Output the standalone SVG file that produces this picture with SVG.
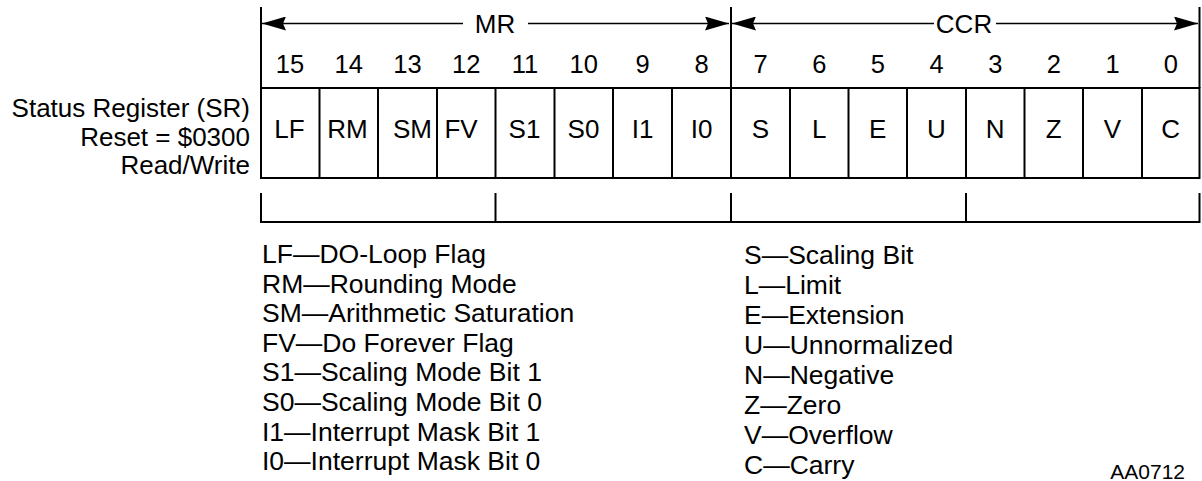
<svg xmlns="http://www.w3.org/2000/svg" width="1202" height="481" viewBox="0 0 1202 481">
<style>
text{font-family:"Liberation Sans",Arial,Helvetica,sans-serif;fill:#000}
.t{font-size:26px}
.lg{font-size:26.5px}
.c{text-anchor:middle}
.e{text-anchor:end}
.ln{stroke:#000;stroke-width:2;fill:none}
.ar{stroke:#000;stroke-width:1.6;fill:none}
</style>
<defs>
<marker id="ah" viewBox="0 0 24 14" refX="24" refY="7" markerWidth="24" markerHeight="14" markerUnits="userSpaceOnUse" orient="auto-start-reverse">
<path d="M0,0 L24,7 L0,14 L3,7 Z" fill="#000"/>
</marker>
</defs>
<rect width="1202" height="481" fill="#fff"/>
<g id="title">
<text class="t e" x="250" y="117">Status Register (SR)</text>
<text class="t e" x="250" y="145.5">Reset = $0300</text>
<text class="t e" x="250" y="173.5">Read/Write</text>
</g>
<g id="frame">
<line class="ln" x1="261" y1="7" x2="261" y2="88"/>
<line class="ln" x1="731" y1="7" x2="731" y2="88"/>
<line class="ln" x1="1199.5" y1="7" x2="1199.5" y2="88"/>
</g>
<g id="connectors">
<line class="ar" x1="463" y1="23.5" x2="262" y2="23.5" marker-end="url(#ah)"/>
<line class="ar" x1="528" y1="23.5" x2="729" y2="23.5" marker-end="url(#ah)"/>
<line class="ar" x1="934" y1="23.5" x2="732" y2="23.5" marker-end="url(#ah)"/>
<line class="ar" x1="996" y1="23.5" x2="1198" y2="23.5" marker-end="url(#ah)"/>
</g>
<g id="mr-label"><text class="t c" x="495" y="33">MR</text></g>
<g id="ccr-label"><text class="t c" x="964" y="33">CCR</text></g>
<g id="bit-numbers" font-size="25.5">
<text class="c" x="290" y="73">15</text>
<text class="c" x="348.75" y="73">14</text>
<text class="c" x="407.5" y="73">13</text>
<text class="c" x="466.25" y="73">12</text>
<text class="c" x="525" y="73">11</text>
<text class="c" x="583.75" y="73">10</text>
<text class="c" x="642.5" y="73">9</text>
<text class="c" x="701.5" y="73">8</text>
<text class="c" x="760.5" y="73">7</text>
<text class="c" x="819.25" y="73">6</text>
<text class="c" x="877.75" y="73">5</text>
<text class="c" x="936.5" y="73">4</text>
<text class="c" x="995.25" y="73">3</text>
<text class="c" x="1053.75" y="73">2</text>
<text class="c" x="1112.5" y="73">1</text>
<text class="c" x="1170.75" y="73">0</text>
</g>
<g id="register">
<rect class="ln" x="261" y="88" width="938.5" height="90"/>
<path class="ln" d="M319.5,88V178M378,88V178M437,88V178M495.5,88V178M554.5,88V178M613,88V178M672,88V178M731,88V178M790,88V178M848.5,88V178M907,88V178M966,88V178M1024.5,88V178M1083,88V178M1142,88V178"/>
</g>
<g id="bits">
<text class="t c" x="289.5" y="138">LF</text>
<text class="t c" x="347.5" y="138">RM</text>
<text class="t c" x="412.5" y="138">SM</text>
<text class="t c" x="461" y="138">FV</text>
<text class="t c" x="524.5" y="138">S1</text>
<text class="t c" x="583.5" y="138">S0</text>
<text class="t c" x="642.5" y="138">I1</text>
<text class="t c" x="701.5" y="138">I0</text>
<text class="t c" x="760.5" y="138">S</text>
<text class="t c" x="819.25" y="138">L</text>
<text class="t c" x="877.75" y="138">E</text>
<text class="t c" x="936.5" y="138">U</text>
<text class="t c" x="995.25" y="138">N</text>
<text class="t c" x="1053.75" y="138">Z</text>
<text class="t c" x="1112.5" y="138">V</text>
<text class="t c" x="1170.75" y="138">C</text>
</g>
<g id="brackets">
<path class="ln" d="M261,193V222H1199.5V193M495.5,193V222M731,193V222M966,193V222"/>
</g>
<g id="mr-legend">
<text class="lg" x="262" y="263">LF—DO-Loop Flag</text>
<text class="lg" x="262" y="292.6">RM—Rounding Mode</text>
<text class="lg" x="262" y="322.2">SM—Arithmetic Saturation</text>
<text class="lg" x="262" y="351.8">FV—Do Forever Flag</text>
<text class="lg" x="262" y="381.4">S1—Scaling Mode Bit 1</text>
<text class="lg" x="262" y="411">S0—Scaling Mode Bit 0</text>
<text class="lg" x="262" y="440.6">I1—Interrupt Mask Bit 1</text>
<text class="lg" x="262" y="470.2">I0—Interrupt Mask Bit 0</text>
</g>
<g id="ccr-legend">
<text class="lg" x="744" y="264">S—Scaling Bit</text>
<text class="lg" x="744" y="294">L—Limit</text>
<text class="lg" x="744" y="324">E—Extension</text>
<text class="lg" x="744" y="354">U—Unnormalized</text>
<text class="lg" x="744" y="384">N—Negative</text>
<text class="lg" x="744" y="414">Z—Zero</text>
<text class="lg" x="744" y="444">V—Overflow</text>
<text class="lg" x="744" y="474">C—Carry</text>
</g>
<g id="figure-id"><text x="1185" y="479" font-size="21" text-anchor="end">AA0712</text></g>
</svg>
